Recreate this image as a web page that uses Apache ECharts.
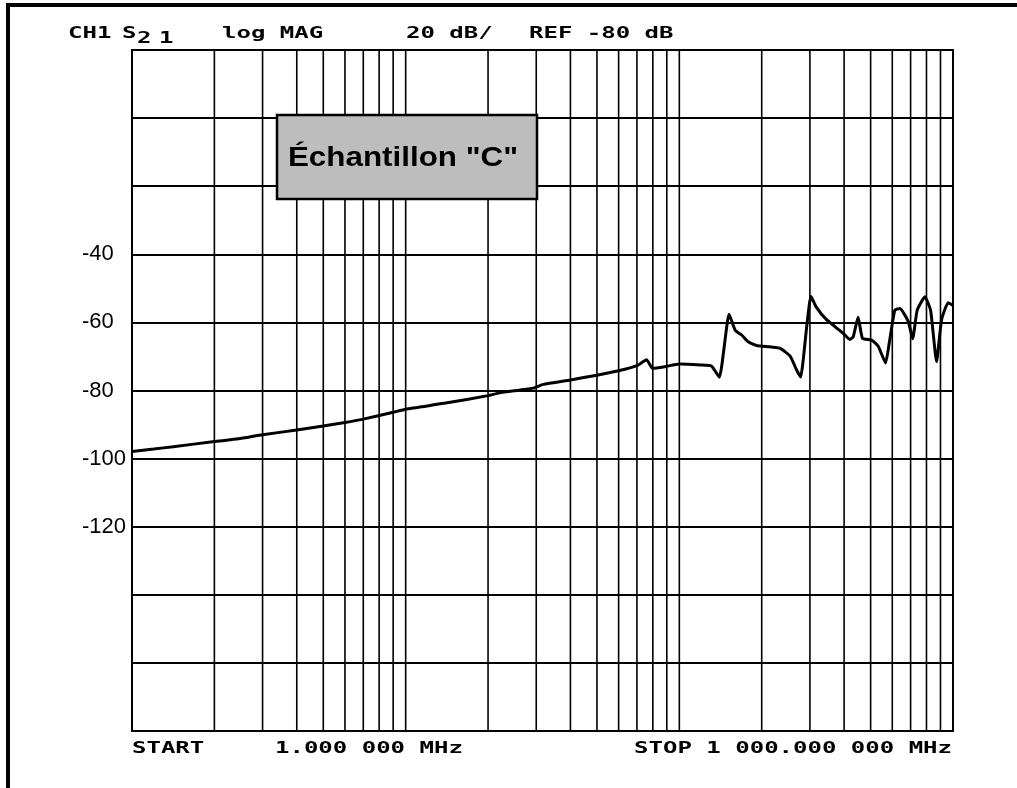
<!DOCTYPE html>
<html>
<head>
<meta charset="utf-8">
<script src="https://cdn.jsdelivr.net/npm/echarts@6/dist/echarts.min.js"></script>
<style>
  html, body { margin: 0; padding: 0; background: #fff; }
  #chart { width: 1017px; height: 788px; }
</style>
</head>
<body>
<div id="chart"></div>
<script>
// S21 transmission trace, log MAG, 1 MHz .. 1000 MHz
const freqMHz = [
  1.0, 1.2, 1.415, 2.0, 2.45, 3.0, 4.0, 5.0, 6.0, 7.0, 9.0, 10, 14, 20, 22, 26, 29.3, 31.8,
  40, 50, 60, 70, 75.9, 79.9, 88.5, 100, 119.5, 131, 140, 152, 160, 169, 178.5, 191.6,
  233, 254, 268, 277.5, 292, 302.6, 317, 345, 397, 420, 432, 450, 467, 504, 533, 567,
  585, 613, 640, 686, 712, 740, 789, 828, 871, 908, 960, 1000
];
const s21dB = [
  -97.9, -97.2, -96.5, -95.0, -94.2, -93.0, -91.6, -90.4, -89.4, -88.4, -86.4, -85.5, -83.7, -81.5, -80.7, -79.9, -79.3, -78.2,
  -76.9, -75.5, -74.2, -72.7, -71.0, -73.5, -73.0, -72.2, -72.5, -72.8, -76.1, -57.6, -62.3, -63.7, -65.7, -66.8,
  -67.6, -69.9, -73.9, -76.0, -61.3, -52.3, -55.6, -59.2, -63.2, -65.0, -64.2, -58.5, -64.7, -65.2, -67.0, -71.9,
  -66.0, -56.4, -55.9, -59.7, -64.8, -56.4, -52.5, -56.4, -71.5, -59.3, -54.2, -55.0
];

// log-decade graticule frequencies (MHz)
const gridFreqs = [2, 3, 4, 5, 6, 7, 8, 9, 10, 20, 30, 40, 50, 60, 70, 80, 90, 100, 200, 300, 400, 500, 600, 700, 800, 900];
// dB values that carry a scale label
const yTickLabels = [-40, -60, -80, -100, -120];

const header = [
  { text: 'CH1', x: 68, y: 34 },
  { text: 'S', x: 122, y: 34 },
  { text: '2', x: 137, y: 39 },
  { text: '1', x: 159, y: 39 },
  { text: 'log MAG', x: 222, y: 34 },
  { text: '20 dB/', x: 406, y: 34 },
  { text: 'REF -80 dB', x: 529, y: 34 }
];
const footer = [
  { text: 'START', x: 132, y: 749, align: 'left' },
  { text: '1.000 000 MHz', x: 275, y: 749, align: 'left' },
  { text: 'STOP 1 000.000 000 MHz', x: 952, y: 749, align: 'right' }
];
const sampleTitle = 'Échantillon "C"';

function plotterText(t) {
  return {
    type: 'text',
    x: t.x, y: t.y,
    scaleX: 1.5,
    silent: true,
    style: {
      text: t.text,
      fontFamily: 'DejaVu Sans Mono',
      fontWeight: 'bold',
      fontSize: 16,
      fill: '#000',
      align: t.align || 'left',
      verticalAlign: 'middle'
    }
  };
}

const chart = echarts.init(document.getElementById('chart'), null, { renderer: 'canvas' });

chart.setOption({
  animation: false,
  backgroundColor: '#fff',
  grid: {
    left: 132, top: 50, right: 64, bottom: 57,
    show: true, borderColor: '#000', borderWidth: 2, backgroundColor: 'transparent'
  },
  xAxis: {
    type: 'log', logBase: 10, min: 1, max: 1000,
    axisLine: { show: false },
    axisTick: { show: false },
    axisLabel: { show: false },
    splitLine: { show: false }
  },
  yAxis: {
    type: 'value', min: -180, max: 20, interval: 20,
    axisLine: { show: false },
    axisTick: { show: false },
    axisLabel: {
      align: 'left', margin: 50,
      fontFamily: 'Liberation Sans', fontSize: 22, color: '#000',
      formatter: v => (yTickLabels.indexOf(v) >= 0 ? String(v) : '')
    },
    splitLine: { show: true, lineStyle: { color: '#000', width: 2 } }
  },
  series: [
    {
      // vertical log graticule
      type: 'custom',
      z: 1,
      silent: true,
      data: gridFreqs.map(f => [f, 0]),
      encode: { x: 0, y: 1 },
      renderItem: (params, api) => {
        const top = api.coord([api.value(0), 20]);
        const bot = api.coord([api.value(0), -180]);
        return {
          type: 'line',
          shape: { x1: top[0], y1: top[1], x2: bot[0], y2: bot[1] },
          style: { stroke: '#000', lineWidth: 1.6 }
        };
      }
    },
    {
      type: 'line',
      z: 3,
      data: freqMHz.map((f, i) => [f, s21dB[i]]),
      showSymbol: false,
      smooth: 0.15,
      lineStyle: { color: '#000', width: 3 }
    }
  ],
  graphic: [
    // outer frame
    { type: 'rect', shape: { x: 6, y: 3, width: 1011, height: 4 }, style: { fill: '#000' }, silent: true },
    { type: 'rect', shape: { x: 6, y: 3, width: 4, height: 785 }, style: { fill: '#000' }, silent: true },
    ...header.map(plotterText),
    ...footer.map(plotterText),
    // sample caption box
    {
      type: 'rect', z: 10, silent: true,
      shape: { x: 277, y: 115, width: 260, height: 84 },
      style: { fill: '#bdbdbd', stroke: '#000', lineWidth: 2.5 }
    },
    {
      type: 'text', z: 11, silent: true,
      x: 403, y: 158, scaleX: 1.12,
      style: {
        text: sampleTitle,
        fontFamily: 'Liberation Sans', fontWeight: 'bold', fontSize: 28,
        fill: '#000', align: 'center', verticalAlign: 'middle'
      }
    }
  ]
});
</script>
</body>
</html>
